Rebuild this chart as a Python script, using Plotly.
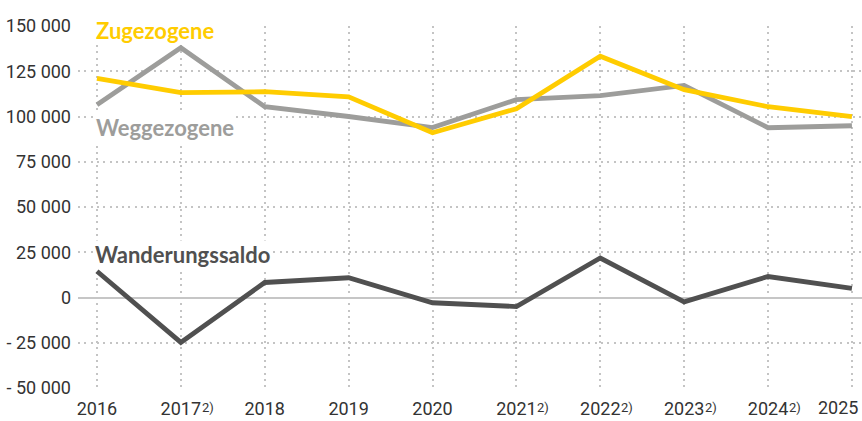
import plotly.graph_objects as go

years = [2016, 2017, 2018, 2019, 2020, 2021, 2022, 2023, 2024, 2025]
year_labels = ["2016", "2017", "2018", "2019", "2020", "2021", "2022", "2023", "2024", "2025"]
footnote_years = [2017, 2021, 2022, 2023, 2024]
zugezogene = [121000, 113200, 113700, 110900, 91000, 104300, 133300, 114800, 105400, 99900]
weggezogene = [106500, 138000, 105400, 100000, 93900, 109300, 111500, 117200, 93800, 94900]
saldo = [14500, -24800, 8300, 10900, -2900, -5000, 21800, -2400, 11600, 5000]
ytick_vals = [-50000, -25000, 0, 25000, 50000, 75000, 100000, 125000, 150000]
ytick_text = ["- 50 000", "- 25 000", "0", "25 000", "50 000", "75 000", "100 000", "125 000", "150 000"]

YELLOW = "#FFCC00"
LGRAY = "#9D9D9B"
DGRAY = "#505050"
TICKFONT = "Roboto"
TICKCOLOR = "#333333"

fig = go.Figure()
fig.add_trace(go.Scatter(x=years, y=weggezogene, mode="lines", line=dict(color=LGRAY, width=4.8), name="Weggezogene"))
fig.add_trace(go.Scatter(x=years, y=zugezogene, mode="lines", line=dict(color=YELLOW, width=4.8), name="Zugezogene"))
fig.add_trace(go.Scatter(x=years, y=saldo, mode="lines", line=dict(color=DGRAY, width=4.8), name="Wanderungssaldo"))

lab_font = "Lato"
annotations = [
    dict(x=2015.98, y=147300, xref="x", yref="y", text="<b>Zugezogene</b>", showarrow=False,
         xanchor="left", yanchor="middle", font=dict(family=lab_font, size=22, color=YELLOW),
         bgcolor="white", borderpad=0),
    dict(x=2015.98, y=93900, xref="x", yref="y", text="<b>Weggezogene</b>", showarrow=False,
         xanchor="left", yanchor="middle", font=dict(family=lab_font, size=22, color=LGRAY),
         bgcolor="white", borderpad=0),
    dict(x=2015.96, y=23800, xref="x", yref="y", text="<b>Wanderungssaldo</b>", showarrow=False,
         xanchor="left", yanchor="middle", font=dict(family=lab_font, size=22, color=DGRAY),
         bgcolor="white", borderpad=0),
]
for fy in footnote_years:
    annotations.append(dict(x=fy, y=-0.055, xref="x", yref="paper", text="2)", showarrow=False,
                            xanchor="center", yanchor="middle", xshift=27,
                            font=dict(family=TICKFONT, size=13, color=TICKCOLOR)))

# last year label does not fit centred on its tick, so it is right-aligned at the edge
tick_text = year_labels[:-1] + [""]
annotations.append(dict(x=years[-1], y=-0.054, xref="x", yref="paper", text=year_labels[-1],
                        showarrow=False, xanchor="right", yanchor="middle", xshift=8,
                        font=dict(family=TICKFONT, size=18, color=TICKCOLOR)))

fig.update_layout(
    width=862, height=421,
    margin=dict(l=78, r=0, t=26, b=33),
    paper_bgcolor="white", plot_bgcolor="white",
    showlegend=False,
    font=dict(family=TICKFONT, size=18, color=TICKCOLOR),
    annotations=annotations,
)
fig.update_xaxes(
    range=[2015.774, 2025.12], tickvals=years, ticktext=tick_text,
    showgrid=True, gridcolor="#C4C4C4", griddash="2px,4.3px", gridwidth=2,
    zeroline=False, showline=False, ticks="", automargin=False, ticklabelstandoff=8,
    tickfont=dict(family=TICKFONT, size=18, color=TICKCOLOR),
)
fig.update_yaxes(
    range=[-50000, 150000], tickvals=ytick_vals, ticktext=ytick_text,
    showgrid=True, gridcolor="#C4C4C4", griddash="2px,4.3px", gridwidth=2,
    zeroline=True, zerolinecolor="#C6C6C6", zerolinewidth=2,
    showline=False, ticks="", ticklabelstandoff=6, automargin=False,
    tickfont=dict(family=TICKFONT, size=18, color=TICKCOLOR),
)
fig.write_html("out.html", config={"displayModeBar": False},
               post_script="document.body.style.margin='0';document.body.style.padding='0';")
